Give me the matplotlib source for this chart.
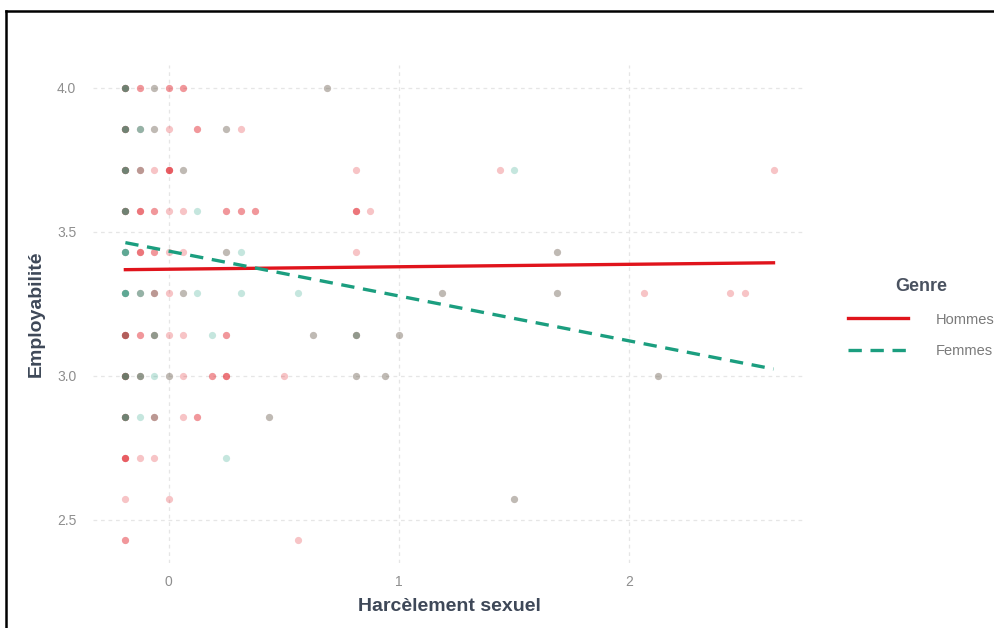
import numpy as np
import matplotlib
matplotlib.use("Agg")
import matplotlib.pyplot as plt
from matplotlib.lines import Line2D

plt.rcParams['font.family'] = ['Liberation Sans', 'DejaVu Sans']

# points on the grid: position, number of men (H) and women (F) stacked there
pt_x = [-0.1875, -0.125, -0.0625, 0, 0.0625, 0.6875,
        -0.1875, -0.125, -0.0625, 0, 0.125, 0.25, 0.3125,
        -0.1875, -0.125, -0.0625, 0, 0.0625, 0.8125, 1.4375, 1.5, 2.625,
        -0.1875, -0.125, -0.0625, 0, 0.0625, 0.125, 0.25, 0.3125, 0.375, 0.8125, 0.875,
        -0.1875, -0.125, -0.0625, 0, 0.0625, 0.25, 0.3125, 0.8125, 1.6875,
        -0.1875, -0.125, -0.0625, 0, 0.0625, 0.125, 0.3125, 0.5625, 1.1875, 1.6875, 2.0625, 2.4375, 2.5,
        -0.1875, -0.125, -0.0625, 0, 0.0625, 0.1875, 0.25, 0.625, 0.8125, 1.0,
        -0.1875, -0.125, -0.0625, 0, 0.0625, 0.1875, 0.25, 0.5, 0.8125, 0.9375, 2.125,
        -0.1875, -0.125, -0.0625, 0.0625, 0.125, 0.4375,
        -0.1875, -0.125, -0.0625, 0.25,
        -0.1875, 0, 1.5,
        -0.1875, 0.5625]
pt_y = [4.0] * 6 + [3.857] * 7 + [3.714] * 9 + [3.571] * 11 + [3.429] * 9 \
     + [3.286] * 13 + [3.143] * 10 + [3.0] * 11 + [2.857] * 6 + [2.714] * 4 \
     + [2.571] * 3 + [2.429] * 2
n_hommes = [4, 2, 1, 2, 2, 1,
            4, 1, 1, 1, 2, 1, 1,
            4, 2, 1, 4, 1, 1, 1, 0, 1,
            4, 3, 2, 1, 1, 0, 2, 2, 2, 3, 1,
            1, 3, 2, 1, 1, 1, 0, 1, 1,
            1, 1, 2, 1, 1, 0, 0, 0, 1, 1, 1, 1, 1,
            5, 2, 2, 1, 1, 0, 2, 1, 2, 1,
            5, 2, 0, 1, 1, 2, 3, 1, 1, 1, 1,
            4, 0, 2, 1, 2, 1,
            4, 1, 1, 0,
            1, 1, 1,
            2, 1]
n_femmes = [3, 0, 1, 0, 0, 1,
            3, 2, 1, 0, 0, 1, 0,
            3, 1, 0, 0, 1, 0, 0, 1, 0,
            3, 0, 0, 0, 0, 1, 0, 0, 0, 0, 0,
            4, 0, 0, 0, 0, 1, 1, 0, 1,
            4, 2, 1, 0, 1, 1, 1, 1, 1, 1, 0, 0, 0,
            1, 0, 2, 0, 0, 1, 0, 1, 2, 1,
            3, 2, 1, 1, 0, 0, 0, 0, 1, 1, 1,
            3, 1, 1, 0, 0, 1,
            0, 0, 0, 1,
            0, 0, 1,
            0, 0]

# fitted lines (intercept, slope) and their x range
groups = ['Hommes', 'Femmes']
intercepts = [3.370, 3.433]
slopes = [0.0085, -0.156]
line_x = [-0.1875, 2.625]

red = '#e0141c'
teal = '#1b9e7f'

fig = plt.figure(figsize=(9.94, 6.28), dpi=100)
ax = fig.add_axes([93 / 994, 1 - 563 / 628, (806 - 93) / 994, (563 - 65) / 628])

px = np.array(pt_x)
py = np.array(pt_y)
hx = np.repeat(px, n_hommes)
hy = np.repeat(py, n_hommes)
fx = np.repeat(px, n_femmes)
fy = np.repeat(py, n_femmes)
ax.scatter(hx, hy, s=27, color=red, alpha=0.25, linewidths=0, zorder=2)
ax.scatter(fx, fy, s=27, color=teal, alpha=0.25, linewidths=0, zorder=2)

lx = np.array(line_x)
ax.plot(lx, intercepts[0] + slopes[0] * lx, color=red, lw=2.4, zorder=3, label=groups[0])
ax.plot(lx, intercepts[1] + slopes[1] * lx, color=teal, lw=2.4, ls=(0, (4, 2.6)),
        zorder=3, label=groups[1])

ax.set_xlim(-0.328, 2.766)
ax.set_ylim(2.35, 4.079)
ax.set_xticks([0, 1, 2])
ax.set_yticks([2.5, 3.0, 3.5, 4.0])
ax.set_yticklabels(['2.5', '3.0', '3.5', '4.0'])
ax.grid(True, ls=(0, (3, 3)), color='#e6e6e6', lw=0.9)
ax.set_axisbelow(True)
for s in ax.spines.values():
    s.set_visible(False)
ax.tick_params(length=0, labelsize=10, labelcolor='#8e8e8e')
ax.tick_params(axis='x', pad=9)
ax.tick_params(axis='y', pad=12)

ax.set_xlabel('Harcèlement sexuel', fontsize=14, fontweight='bold', color='#3e4858', labelpad=6)
ax.set_ylabel('Employabilité', fontsize=14, fontweight='bold', color='#3e4858', labelpad=9)

leg = fig.legend(loc='center left', bbox_to_anchor=(835 / 994, 1 - 318 / 628), frameon=False,
                 title='Genre', fontsize=10.5, handlelength=4.1, handletextpad=1.9,
                 labelspacing=1.2)
leg.get_title().set_fontweight('bold')
leg.get_title().set_fontsize(13)
leg.get_title().set_color('#4a5260')
for t in leg.get_texts():
    t.set_color('#7a7a7a')

# screenshot frame on top and left
fig.add_artist(Line2D([6 / 994, 1], [1 - 11 / 628, 1 - 11 / 628], color='black', lw=1.8))
fig.add_artist(Line2D([6 / 994, 6 / 994], [0, 1 - 11 / 628], color='black', lw=1.8))

fig.savefig('out.png', dpi=100)
